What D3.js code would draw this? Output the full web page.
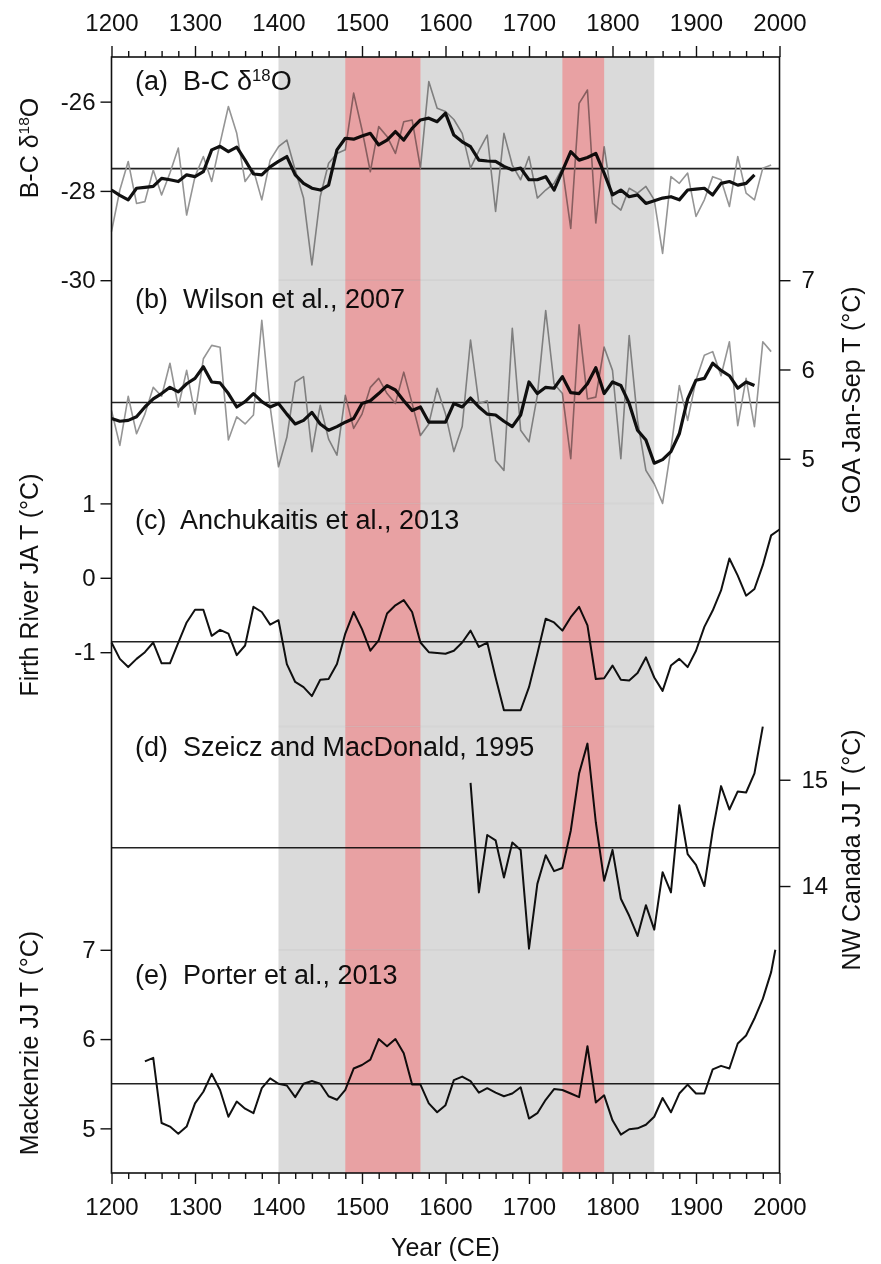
<!DOCTYPE html>
<html><head><meta charset="utf-8">
<script src="https://cdn.jsdelivr.net/npm/d3@7"></script>
<style>
body{margin:0;background:#fff}
svg{display:block}
text{font-family:"Liberation Sans",Arial,Helvetica,sans-serif;fill:#111;white-space:pre}
</style></head>
<body><svg id="chart" width="881" height="1264"></svg>
<script>
// ---------------- DATA ----------------
const xTickYears = [1200,1300,1400,1500,1600,1700,1800,1900,2000];

// (a) B-C d18O, raw (grey) and smoothed (black)
const bcRawYears = d3.range(1200, 1991, 10);
const bcRaw = [-28.91,-27.98,-27.34,-28.28,-28.24,-27.53,-28.09,-27.6,-27.04,-28.54,
  -27.68,-27.23,-27.79,-26.93,-26.11,-26.71,-27.79,-27.53,-28.2,-27.31,
  -27.01,-26.86,-27.53,-28.16,-29.66,-28.13,-27.38,-27.16,-27.08,-25.81,
  -26.63,-27.57,-26.56,-26.78,-27.16,-26.45,-26.41,-27.49,-25.55,-26.15,
  -26.22,-26.4,-26.71,-27.49,-27.1,-26.75,-28.46,-26.71,-27.42,-27.75,
  -27.23,-28.16,-27.98,-27.83,-27.49,-28.84,-26.04,-25.74,-28.72,-27.01,
  -28.28,-28.43,-27.94,-28.05,-27.9,-28.2,-29.4,-27.68,-27.83,-27.6,
  -28.57,-28.2,-27.68,-27.75,-28.35,-27.23,-28.05,-28.2,-27.49,-27.42];
const bcSmoothYears = d3.range(1200, 1971, 10);
const bcSmooth = [-27.98,-28.1,-28.2,-27.94,-27.92,-27.9,-27.72,-27.75,-27.79,-27.64,
  -27.68,-27.57,-27.08,-27.0,-27.12,-27.02,-27.31,-27.62,-27.64,-27.46,
  -27.34,-27.23,-27.64,-27.83,-27.94,-27.98,-27.87,-27.08,-26.82,-26.84,
  -26.77,-26.71,-26.97,-26.86,-26.67,-26.86,-26.6,-26.41,-26.37,-26.45,
  -26.26,-26.75,-26.9,-27.01,-27.31,-27.33,-27.34,-27.45,-27.53,-27.49,
  -27.75,-27.75,-27.68,-27.98,-27.55,-27.12,-27.31,-27.25,-27.16,-27.6,
  -28.09,-27.98,-28.13,-28.09,-28.28,-28.22,-28.16,-28.13,-28.2,-27.98,
  -27.96,-27.94,-28.09,-27.83,-27.79,-27.87,-27.83,-27.64];
const bcMean = -27.5;

// (b) Wilson et al., 2007 GOA Jan-Sep T
const goaRawYears = d3.range(1200, 1991, 10);
const goaRaw = [5.54,5.15,5.7,5.28,5.5,5.8,5.7,6.07,5.58,5.99,
  5.5,6.12,6.27,6.25,5.21,5.47,5.39,5.49,6.55,5.58,
  4.91,5.24,5.86,5.92,5.08,5.6,5.22,5.04,5.71,5.34,
  5.5,5.8,5.9,5.73,5.62,5.97,5.62,5.26,5.39,5.79,
  5.5,5.08,5.36,6.33,5.62,5.65,4.98,4.87,6.46,5.32,
  5.19,5.71,6.66,5.84,5.73,5.0,6.5,5.67,5.69,6.25,
  5.99,5.0,6.38,5.43,4.87,4.72,4.5,5.11,5.82,5.43,
  5.88,6.16,6.2,5.93,6.31,5.37,5.9,5.36,6.31,6.2];
const goaSmoothYears = d3.range(1200, 1971, 10);
const goaSmooth = [5.45,5.42,5.43,5.47,5.58,5.67,5.73,5.8,5.75,5.84,
  5.9,6.03,5.86,5.85,5.73,5.58,5.64,5.73,5.64,5.58,
  5.62,5.5,5.39,5.43,5.52,5.39,5.32,5.36,5.41,5.45,
  5.62,5.65,5.73,5.82,5.77,5.65,5.54,5.58,5.41,5.41,
  5.41,5.62,5.58,5.68,5.58,5.5,5.49,5.42,5.36,5.49,
  5.86,5.73,5.8,5.79,5.92,5.74,5.73,5.84,6.02,5.73,
  5.86,5.82,5.62,5.32,5.21,4.95,4.99,5.08,5.28,5.67,
  5.88,5.9,6.07,5.99,5.93,5.79,5.86,5.82];
const goaMean = 5.63;

// (c) Anchukaitis et al., 2013 Firth River JA T
const firthYears = d3.range(1200, 2001, 10);
const firth = [-0.87,-1.09,-1.2,-1.09,-1.0,-0.87,-1.15,-1.15,-0.87,-0.6,
  -0.43,-0.43,-0.78,-0.7,-0.75,-1.04,-0.91,-0.39,-0.46,-0.63,
  -0.57,-1.16,-1.4,-1.47,-1.59,-1.37,-1.36,-1.16,-0.75,-0.46,
  -0.69,-0.98,-0.84,-0.48,-0.37,-0.3,-0.46,-0.87,-1.0,-1.01,
  -1.02,-0.98,-0.87,-0.71,-0.93,-0.87,-1.34,-1.78,-1.78,-1.78,
  -1.47,-1.02,-0.55,-0.6,-0.71,-0.53,-0.39,-0.64,-1.36,-1.35,
  -1.18,-1.37,-1.38,-1.28,-1.07,-1.34,-1.52,-1.18,-1.09,-1.2,
  -0.98,-0.66,-0.44,-0.17,0.26,0.03,-0.24,-0.15,0.17,0.57,0.65];
const firthMean = -0.86;

// (d) Szeicz and MacDonald, 1995 NW Canada JJ T
const nwcYears = d3.range(1630, 1981, 10);
const nwc = [14.97,13.94,14.48,14.43,14.08,14.41,14.34,13.41,14.02,14.29,
  14.14,14.17,14.52,15.06,15.34,14.6,14.05,14.34,13.88,13.72,
  13.53,13.82,13.59,14.13,13.94,14.76,14.3,14.2,14.0,14.52,
  14.94,14.72,14.89,14.88,15.06,15.5];
const nwcMean = 14.36;

// (e) Porter et al., 2013 Mackenzie JJ T
const mackYears = d3.range(1240, 1991, 10).concat([1995]);
const mack = [5.75,5.79,5.06,5.02,4.94,5.02,5.28,5.41,5.61,5.43,
  5.13,5.3,5.22,5.17,5.45,5.56,5.5,5.48,5.35,5.5,
  5.53,5.5,5.36,5.32,5.43,5.67,5.71,5.77,6.0,5.92,
  6.0,5.84,5.49,5.49,5.28,5.18,5.26,5.54,5.58,5.53,
  5.4,5.45,5.4,5.36,5.39,5.46,5.11,5.17,5.32,5.44,
  5.43,5.39,5.35,5.92,5.29,5.37,5.09,4.93,4.99,5.0,
  5.04,5.13,5.34,5.18,5.39,5.49,5.39,5.39,5.66,5.7,
  5.67,5.95,6.04,6.23,6.45,6.75,7.0];
const mackMean = 5.5;

// shaded periods
const greyPeriods = [[1400,1850]];
const redPeriods = [[1480,1570],[1740,1790]];

// ---------------- LAYOUT ----------------
const svg = d3.select("#chart");
const X0 = 111.5, X1 = 779.5, TOP = 57, BOT = 1173;
const PH = (BOT - TOP) / 5;
const x = d3.scaleLinear().domain([1200, 2000]).range([X0, X1]);

const panels = [
  {label:["(a)  B-C δ","18","O"], labOff:33, domain:[-30,-25], side:"left", ticks:[-30,-28,-26],
   title:["B-C δ","18","O"], titleCenter:148,
   series:[{yrs:bcRawYears, v:bcRaw, raw:true},{yrs:bcSmoothYears, v:bcSmooth, thick:true}], mean:bcMean},
  {label:["(b)  Wilson et al., 2007"], labOff:28, domain:[4.5,7], side:"right", ticks:[5,6,7],
   title:["GOA Jan-Sep T (°C)"], titleCenter:400,
   series:[{yrs:goaRawYears, v:goaRaw, raw:true},{yrs:goaSmoothYears, v:goaSmooth, thick:true}], mean:goaMean},
  {label:["(c)  Anchukaitis et al., 2013"], labOff:26, domain:[-2,1], side:"left", ticks:[-1,0,1],
   title:["Firth River JA T (°C)"], titleCenter:585,
   series:[{yrs:firthYears, v:firth}], mean:firthMean},
  {label:["(d)  Szeicz and MacDonald, 1995"], labOff:29, domain:[13.4,15.5], side:"right", ticks:[14,15],
   title:["NW Canada JJ T (°C)"], titleCenter:850,
   series:[{yrs:nwcYears, v:nwc}], mean:nwcMean},
  {label:["(e)  Porter et al., 2013"], labOff:34, domain:[4.5,7], side:"left", ticks:[5,6,7],
   title:["Mackenzie JJ T (°C)"], titleCenter:1043,
   series:[{yrs:mackYears, v:mack}], mean:mackMean}
];

const FS_TICK = 24, FS_LAB = 27, FS_TITLE = 25;

function addRich(sel, parts){
  parts.forEach((p,i)=>{
    if(parts.length===3 && i===1){
      sel.append("tspan").attr("dy",-9).attr("font-size","0.62em").text(p);
    } else if(parts.length===3 && i===2){
      sel.append("tspan").attr("dy",9).text(p);
    } else sel.append("tspan").text(p);
  });
}

const gData = svg.append("g");
panels.forEach((p,i)=>{
  const top = TOP + i*PH, bot = top + PH;
  const y = d3.scaleLinear().domain(p.domain).range([bot, top]);
  p.y = y; p.top = top; p.bot = bot;
  const g = gData.append("g");
  g.append("line").attr("x1",X0).attr("x2",X1).attr("y1",y(p.mean)).attr("y2",y(p.mean))
    .attr("stroke","#222").attr("stroke-width",1.6);
  const line = d3.line().x(d=>x(d[0])).y(d=>y(d[1]));
  p.series.forEach(s=>{
    const pts = s.yrs.map((yr,k)=>[yr, s.v[k]]);
    g.append("path").attr("d", line(pts)).attr("fill","none")
      .attr("stroke", s.raw ? "#959595" : "#111")
      .attr("stroke-width", s.raw ? 1.6 : (s.thick ? 3.2 : 2))
      .attr("stroke-linejoin","round");
  });
  const t = g.append("text").attr("x",135).attr("y",top+p.labOff).attr("font-size",FS_LAB);
  addRich(t, p.label);
});

// shaded bands drawn on top, multiply blend
const gBand = svg.append("g").style("mix-blend-mode","multiply");
panels.forEach(p=>{
  greyPeriods.forEach(b=>{
    gBand.append("rect").attr("x",x(b[0])).attr("width",x(b[1])-x(b[0]))
      .attr("y",p.top).attr("height",p.bot-p.top).attr("fill","#dadada");
  });
  redPeriods.forEach(b=>{
    gBand.append("rect").attr("x",x(b[0])).attr("width",x(b[1])-x(b[0]))
      .attr("y",p.top).attr("height",p.bot-p.top).attr("fill","#e8a1a3");
  });
});
panels.slice(1).forEach(p=>{
  greyPeriods.forEach(b=>{
    gBand.append("line").attr("x1",x(b[0])).attr("x2",x(b[1])).attr("y1",p.top).attr("y2",p.top)
      .attr("stroke","#000").attr("stroke-opacity",0.06).attr("stroke-width",1.5);
  });
});

// frame
svg.append("rect").attr("x",X0).attr("y",TOP).attr("width",X1-X0).attr("height",BOT-TOP)
  .attr("fill","none").attr("stroke","#111").attr("stroke-width",1.6);

function styleAxis(g){
  g.select(".domain").remove();
  g.selectAll(".tick line").attr("stroke","#111").attr("stroke-width",1.4);
  g.selectAll(".tick text").attr("font-size",FS_TICK).attr("fill","#111")
    .style("font-family",'"Liberation Sans",Arial,sans-serif');
}
const fmt = d => String(d);
const minorYears = d3.range(1200, 2001, 20).filter(v=>v%100!==0);
svg.append("g").attr("transform",`translate(0,${TOP})`)
  .call(d3.axisTop(x).tickValues(xTickYears).tickFormat(fmt).tickSize(11).tickPadding(15))
  .call(styleAxis);
svg.append("g").attr("transform",`translate(0,${TOP})`)
  .call(d3.axisTop(x).tickValues(minorYears).tickFormat("").tickSize(6)).call(styleAxis);
svg.append("g").attr("transform",`translate(0,${BOT})`)
  .call(d3.axisBottom(x).tickValues(xTickYears).tickFormat(fmt).tickSize(11).tickPadding(14))
  .call(styleAxis);
svg.append("g").attr("transform",`translate(0,${BOT})`)
  .call(d3.axisBottom(x).tickValues(minorYears).tickFormat("").tickSize(6)).call(styleAxis);

panels.forEach(p=>{
  const left = p.side === "left";
  const ax = (left ? d3.axisLeft(p.y) : d3.axisRight(p.y))
    .tickValues(p.ticks).tickFormat(fmt).tickSize(11).tickPadding(left ? 5 : 11);
  svg.append("g").attr("transform",`translate(${left?X0:X1},0)`).call(ax).call(styleAxis);
  const tx = left ? 38 : 860;
  const t = svg.append("text").attr("font-size",FS_TITLE).attr("text-anchor","middle")
    .attr("transform",`translate(${tx},${p.titleCenter}) rotate(-90)`);
  addRich(t, p.title);
});

svg.append("text").attr("x",(X0+X1)/2).attr("y",1256).attr("text-anchor","middle")
  .attr("font-size",FS_TITLE).text("Year (CE)");
</script>
</body></html>
